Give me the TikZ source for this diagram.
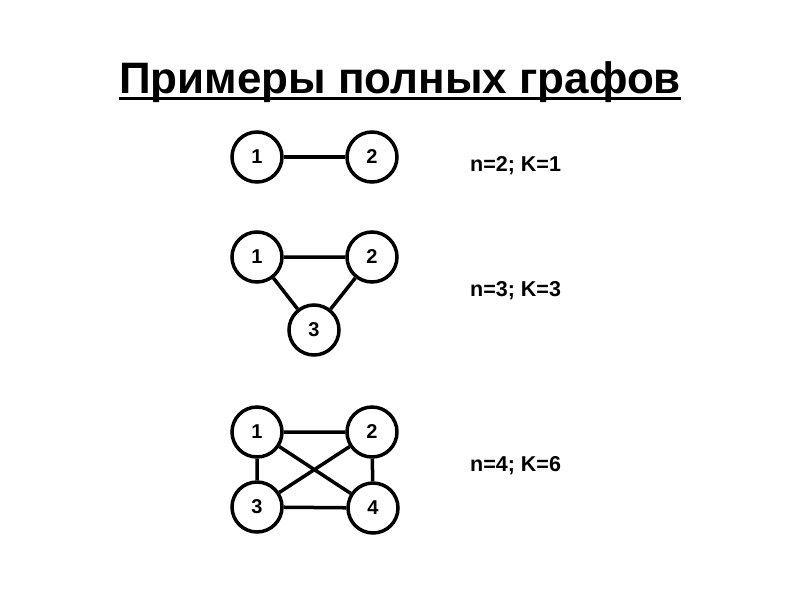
\documentclass[tikz,border=0pt]{standalone}
\usepackage{fontspec}
\setmainfont{Liberation Sans}
\begin{document}
\begin{tikzpicture}[x=1pt,y=-1pt,
  vtx/.style={circle,draw,line width=3.5pt,minimum size=50pt,inner sep=0pt,font=\bfseries\fontsize{20}{22}\selectfont},
  edge/.style={line width=3.5pt},
  lbl/.style={anchor=base west,inner sep=0pt,font=\bfseries\fontsize{21.5}{24}\selectfont}]
\useasboundingbox (0,0) rectangle (800,600);
\node[anchor=base,inner sep=0pt,font=\bfseries\fontsize{44}{48}\selectfont] (title) at (400,93) {Примеры полных графов};
\draw[line width=3.3pt] (title.west |- 0,98.3) -- (title.east |- 0,98.3);
% graph 1
\node[vtx] (a1) at (257,157) {1};
\node[vtx] (a2) at (372,157) {2};
\draw[edge] (a1) -- (a2);
\node[lbl] (la) at (470,171.7) {n=2; K=1};
% graph 2
\node[vtx] (b1) at (257,257) {1};
\node[vtx] (b2) at (372,257) {2};
\node[vtx] (b3) at (314,330) {3};
\draw[edge] (b1) -- (b2) (b1) -- (b3) (b2) -- (b3);
\node[lbl] (lb) at (470,296.7) {n=3; K=3};
% graph 3
\node[vtx] (c1) at (257,432) {1};
\node[vtx] (c2) at (372,432) {2};
\node[vtx] (c3) at (257,507) {3};
\node[vtx] (c4) at (373,508) {4};
\draw[edge] (c1) -- (c2) (c1) -- (c3) (c1) -- (c4) (c2) -- (c3) (c2) -- (c4) (c3) -- (c4);
\node[lbl] (lc) at (470,471.7) {n=4; K=6};
\end{tikzpicture}
\end{document}
